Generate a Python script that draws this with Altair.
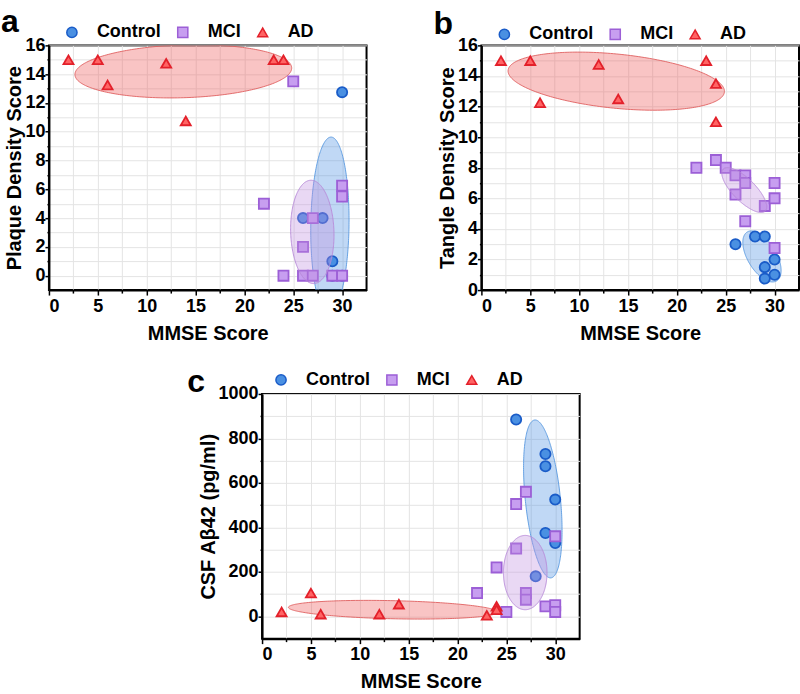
import numpy as np
import pandas as pd
import altair as alt

GROUPS = ["Control", "MCI", "AD"]
FILL = ["#4a90e2", "#c79ef0", "#ff6464"]
STROKE = ["#1a5cc8", "#9c5fd6", "#e3202a"]
SIZES = [105, 100, 150]
ELL_FILL = ["#4a90e2", "#c090e0", "#ee5555"]
ELL_LINE = ["#5a9ae0", "#b88ad8", "#e06060"]
SHAPES = ["circle", "square", "triangle-up"]

# ---------------- panel a : plaque density ----------------
A_CTRL_X = [26, 28, 29, 29, 30, 30]
A_CTRL_Y = [4, 4, 1, 0, 0, 12.75]
A_MCI_X = [25, 22, 30, 30, 27, 26, 24, 26, 27, 29, 30]
A_MCI_Y = [13.5, 5, 6.25, 5.5, 4, 2, 0, 0, 0, 0, 0]
A_AD_X = [2, 5, 6, 12, 14, 23, 24]
A_AD_Y = [15, 15, 13.25, 14.75, 10.75, 15, 15]
# ellipses: centre x, centre y, half-width, half-height, correlation
A_ELL = {"Control": (28.75, 3.5, 1.96, 6.13, 0.06),
         "MCI": (26.95, 3.04, 2.22, 3.59, -0.06),
         "AD": (13.75, 14.2, 11.09, 1.85, 0.12)}

# ---------------- panel b : tangle density ----------------
B_CTRL_X = [26, 28, 29, 29, 29, 30, 30]
B_CTRL_Y = [3, 3.5, 3.5, 1.5, 0.75, 2, 1]
B_MCI_X = [22, 24, 25, 26, 26, 27, 27, 27, 29, 30, 30, 30]
B_MCI_Y = [8, 8.5, 8, 7.5, 6.25, 7.5, 7, 4.5, 5.5, 7, 6, 2.75]
B_AD_X = [2, 5, 6, 12, 14, 23, 24, 24]
B_AD_Y = [15, 15, 12.25, 14.75, 12.5, 15, 13.5, 11]
B_ELL = {"Control": (28.71, 2.2, 1.96, 1.67, -0.55),
         "MCI": (26.9, 6.54, 2.3, 1.47, -0.75),
         "AD": (13.8, 13.66, 11.07, 1.9, -0.35)}

# ---------------- panel c : CSF Abeta42 ----------------
C_CTRL_X = [26, 29, 29, 30, 29, 30, 28]
C_CTRL_Y = [885, 730, 675, 525, 375, 330, 180]
C_MCI_X = [27, 26, 30, 26, 24, 22, 27, 27, 29, 30, 30, 25]
C_MCI_Y = [560, 505, 360, 305, 220, 105, 105, 75, 45, 50, 20, 20]
C_AD_X = [2, 5, 6, 12, 14, 23, 24, 24]
C_AD_Y = [20, 105, 10, 10, 55, 5, 45, 30]
C_ELL = {"Control": (28.73, 528, 1.97, 355, -0.4),
         "MCI": (26.93, 197, 2.23, 167, 0.0),
         "AD": (13.4, 30, 10.7, 42, -0.25)}

X_DOMAIN = [0, 32.5]
X_TICKS = [0, 2.5, 5, 7.5, 10, 12.5, 15, 17.5, 20, 22.5, 25, 27.5, 30]
AB_Y_TICKS = list(range(0, 17))
C_Y_TICKS = list(range(0, 1001, 100))

FONT = "Liberation Sans"


def points_df(cx, cy, mx, my, ax, ay):
    rows = []
    for g, xs, ys in (("Control", cx, cy), ("MCI", mx, my), ("AD", ax, ay)):
        for x, y in zip(xs, ys):
            rows.append({"x": x, "y": y, "group": g})
    return pd.DataFrame(rows)


def ellipse_area(p):
    cx, cy, rx, ry, rho = p
    k = np.sqrt(1 - rho ** 2)
    phi = np.linspace(np.pi, 0, 121)
    c = np.cos(phi)
    s = np.sin(phi)
    return pd.DataFrame({"x": cx + rx * c,
                         "y": cy + ry * (rho * c - k * s),
                         "y2": cy + ry * (rho * c + k * s)})


def ellipse_line(p):
    cx, cy, rx, ry, rho = p
    k = np.sqrt(1 - rho ** 2)
    t = np.linspace(0, 2 * np.pi, 241)
    return pd.DataFrame({"x": cx + rx * np.cos(t),
                         "y": cy + ry * (rho * np.cos(t) + k * np.sin(t)),
                         "i": np.arange(len(t))})


def panel(pts, ells, ydom, yticks, ymajor, ytitle, letter, lx, ly, title_dx, title_dy):
    xenc = alt.X("x:Q", scale=alt.Scale(domain=X_DOMAIN, nice=False, zero=False),
                 axis=alt.Axis(values=X_TICKS, title="MMSE Score", format="d",
                               labelExpr="datum.value % 5 == 0 ? datum.label : ''",
                               tickSize={"condition": {"test": "datum.value % 5 == 0", "value": 5}, "value": 3},
                               labelPadding=2, titlePadding=8))
    yenc = alt.Y("y:Q", scale=alt.Scale(domain=ydom, nice=False, zero=False),
                 axis=alt.Axis(values=yticks, title=ytitle, format="d",
                               labelExpr=f"datum.value % {ymajor} == 0 ? datum.label : ''",
                               tickSize={"condition": {"test": f"datum.value % {ymajor} == 0", "value": 4}, "value": 2},
                               labelPadding=0, titlePadding=0))

    def ell_layers(g):
        i = GROUPS.index(g)
        area = alt.Chart(ellipse_area(ells[g])).mark_area(
            clip=True, color=ELL_FILL[i], opacity=0.35).encode(x=xenc, y=yenc, y2="y2:Q")
        line = alt.Chart(ellipse_line(ells[g])).mark_line(
            clip=True, color=ELL_LINE[i], strokeWidth=1, opacity=0.9).encode(x=xenc, y=yenc, order="i:Q")
        return [area, line]

    leg = alt.Legend(orient="none", legendX=lx, legendY=ly, direction="horizontal", columns=3,
                     gridAlign="none", title=None, labelFont=FONT, labelFontSize=18,
                     labelFontWeight="bold", labelColor="black", labelOffset=16, columnPadding=13,
                     symbolSize=90, symbolStrokeWidth=1.5, padding=0)
    pts_layer = alt.Chart(pts).mark_point(filled=True, strokeWidth=1.8, opacity=1).encode(
        x=xenc, y=yenc,
        color=alt.Color("group:N", scale=alt.Scale(domain=GROUPS, range=FILL), legend=leg),
        shape=alt.Shape("group:N", scale=alt.Scale(domain=GROUPS, range=SHAPES), legend=leg),
        stroke=alt.Stroke("group:N", scale=alt.Scale(domain=GROUPS, range=STROKE), legend=leg),
        size=alt.Size("group:N", scale=alt.Scale(domain=GROUPS, range=SIZES), legend=None),
    )
    layers = ell_layers("AD") + ell_layers("Control") + [pts_layer] + ell_layers("MCI")
    return alt.layer(*layers).properties(
        width=318, height=245,
        title=alt.TitleParams(letter, anchor="start", frame="group", fontSize=32, font=FONT,
                              fontWeight="bold", color="black", dx=title_dx, dy=title_dy),
    )


pa = panel(points_df(A_CTRL_X, A_CTRL_Y, A_MCI_X, A_MCI_Y, A_AD_X, A_AD_Y), A_ELL,
           [-1, 16], AB_Y_TICKS, 2, "Plaque Density Score", "a", 14, -22, -48, 20)
pb = panel(points_df(B_CTRL_X, B_CTRL_Y, B_MCI_X, B_MCI_Y, B_AD_X, B_AD_Y), B_ELL,
           [0, 16], AB_Y_TICKS, 2, "Tangle Density Score", "b", 14, -20, -48, 20)
pc = panel(points_df(C_CTRL_X, C_CTRL_Y, C_MCI_X, C_MCI_Y, C_AD_X, C_AD_Y), C_ELL,
           [-100, 1000], C_Y_TICKS, 200, "CSF A\u03b242 (pg/ml)", "c", 10, -23, -75, 32)

# invisible spacer so that panel c sits where it does in the original
spacer = alt.Chart(pd.DataFrame({"v": [0]})).mark_point(opacity=0).encode(
    x=alt.X("v:Q", axis=None), y=alt.Y("v:Q", axis=None)
).properties(width=1, height=1, view=alt.ViewBackground(strokeOpacity=0))

res = dict(color="independent", shape="independent", stroke="independent", size="independent")
top = alt.hconcat(pa, pb, spacing=65).resolve_scale(**res)
bottom = alt.hconcat(pc, spacer, spacing=0).resolve_scale(**res)
chart = alt.vconcat(top, bottom, spacing=21, center=True).resolve_scale(**res).properties(
    padding={"left": 0, "top": 5, "right": 0, "bottom": 0}
).configure_axis(
    labelFont=FONT, labelFontSize=18, labelFontWeight="bold", labelColor="black",
    titleFont=FONT, titleFontSize=20, titleFontWeight="bold", titleColor="black",
    domainColor="black", domainWidth=2, tickColor="black", tickWidth=1.5,
    gridColor="#e4e4e4", gridWidth=1, labelOverlap=False,
).configure_view(stroke="black", strokeWidth=2)

chart.save("out.html", embed_options={"renderer": "svg", "actions": False})
